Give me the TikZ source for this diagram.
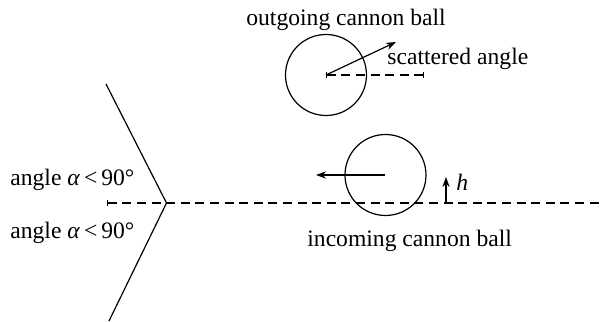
\documentclass[tikz,border=0pt]{standalone}
\usepackage{fontspec}
\setmainfont{Liberation Serif}
\usepackage{tikz}
\usetikzlibrary{arrows.meta,positioning}
\tikzset{
  ball/.style={draw, circle, line width=.6pt, minimum size=40.5pt, inner sep=0pt},
  ar/.style={-{Stealth[length=5pt,width=3.6pt]}, line width=.6pt},
  axisln/.style={dashed, dash pattern=on 4.5pt off 2.8pt, line width=.6pt},
  wall/.style={line width=.6pt},
  lbl/.style={anchor=base west, inner sep=0pt, font=\fontsize{11.8pt}{14pt}\selectfont},
}
\begin{document}
\begin{tikzpicture}[x=0.5pt,y=0.5pt]
    \useasboundingbox (0,0) rectangle (602,322);
    \coordinate (walltop) at (106,238);
    \coordinate (tip) at (166.5,119);
    \coordinate (wallbot) at (109,1);
    \coordinate (axisL) at (107,119);
    \coordinate (axisR) at (602,119);
    \draw[wall] (walltop) -- (tip) -- (wallbot);
    \draw[axisln, {Bar[width=3pt]}-] (axisL) -- (axisR);
    \foreach \n/\y in {up/136, down/83}{
      \node[lbl] (angle\n) at (10,\y) {angle \textit{α}\,<\,90°};
    }
    \node[ball] (inball) at (385.5,147) {};
    \coordinate (inhead) at (316,147);
    \draw[ar] (inball.center) -- (inhead);
    \coordinate (hfoot) at (446,119);
    \coordinate (hhead) at (446,145);
    \draw[ar] (hfoot) -- (hhead);
    \node[lbl] (hlbl) at (456,131) {\textit{h}};
    \node[lbl] (inlbl) at (307,75) {incoming cannon ball};
    \node[ball] (outball) at (326,247) {};
    \coordinate (outhead) at (396,280);
    \coordinate (scatR) at (424,247);
    \draw[axisln, {Bar[width=3pt]}-{Bar[width=3pt]}] (outball.center) -- (scatR);
    \draw[ar] (outball.center) -- (outhead);
    \node[lbl] (outlbl) at (246,296) {outgoing cannon ball};
    \node[lbl] (scatlbl) at (387,257) {scattered angle};
\end{tikzpicture}
\end{document}
